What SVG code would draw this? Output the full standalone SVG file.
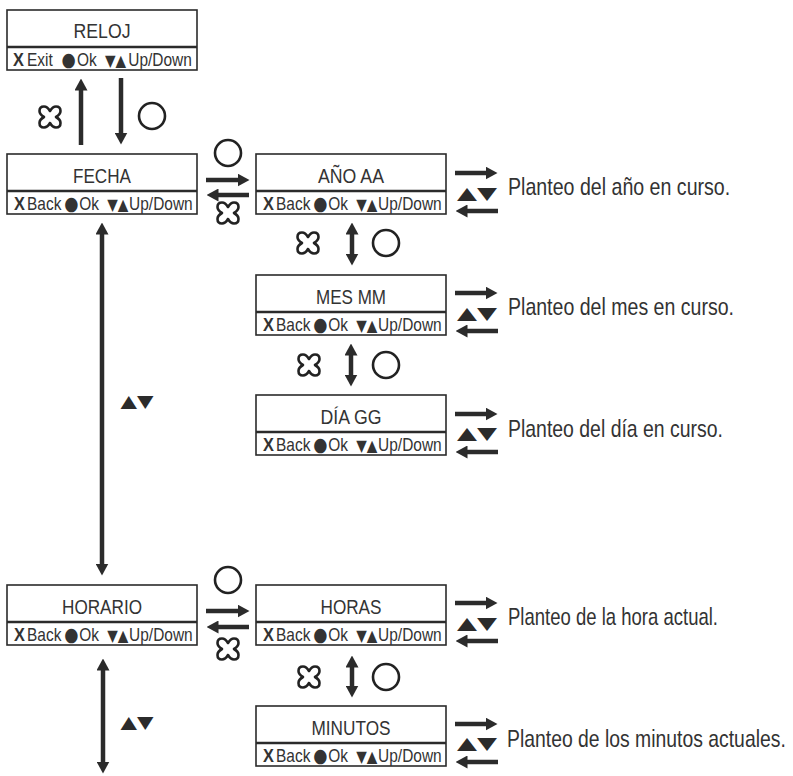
<svg xmlns="http://www.w3.org/2000/svg" xmlns:xlink="http://www.w3.org/1999/xlink" width="793" height="776" viewBox="0 0 793 776">
<style>
  .box { fill: #ffffff; stroke: #2b2b2b; stroke-width: 1.6; }
  .sep { stroke: #2b2b2b; stroke-width: 2.4; }
  .t { font-family: "Liberation Sans", Arial, sans-serif; font-size: 21px; fill: #333333; text-anchor: middle; }
  .k { font-family: "Liberation Sans", Arial, sans-serif; font-size: 18px; fill: #333333; }
  .k .x { font-weight: bold; font-size: 19px; }
  .k .dot { font-family: "DejaVu Sans", sans-serif; font-size: 19px; }
  .k .tr { font-family: "DejaVu Sans", sans-serif; font-size: 16px; }
  .d { font-family: "Liberation Sans", Arial, sans-serif; font-size: 24px; fill: #333333; }
  .tri { font-family: "DejaVu Sans", sans-serif; font-size: 17px; fill: #2b2b2b; text-anchor: middle; }
  .ar { fill: none; stroke: #2b2b2b; stroke-width: 4.5; marker-end: url(#head); }
  .dar { fill: none; stroke: #2b2b2b; stroke-width: 4.5; marker-start: url(#head); marker-end: url(#head); }
  .ok { fill: #ffffff; stroke: #222222; stroke-width: 2.6; }
  .bk { fill: #ffffff; stroke: #222222; stroke-width: 2.6; stroke-linejoin: round; }
</style>
<defs>
  <marker id="head" viewBox="0 0 12 13" refX="0.5" refY="6.5" markerWidth="12" markerHeight="13" markerUnits="userSpaceOnUse" orient="auto-start-reverse">
    <path d="M0,0 L12,6.5 L0,13 z" fill="#2b2b2b"/>
  </marker>
  <path id="back" class="bk" d="M0,-6 C2,-9.5 4,-10.5 6,-10.5 C8.8,-10.5 10.5,-8.8 10.5,-6 C10.5,-4 9.5,-2 6,0 C9.5,2 10.5,4 10.5,6 C10.5,8.8 8.8,10.5 6,10.5 C4,10.5 2,9.5 0,6 C-2,9.5 -4,10.5 -6,10.5 C-8.8,10.5 -10.5,8.8 -10.5,6 C-10.5,4 -9.5,2 -6,0 C-9.5,-2 -10.5,-4 -10.5,-6 C-10.5,-8.8 -8.8,-10.5 -6,-10.5 C-4,-10.5 -2,-9.5 0,-6 Z"/>
</defs>
<rect width="793" height="776" fill="#ffffff"/>

<g id="reloj">
  <rect class="box" x="7" y="10" width="190" height="60"/>
  <line class="sep" x1="7" y1="47" x2="197" y2="47"/>
  <text class="t" x="102" y="38" textLength="57" lengthAdjust="spacingAndGlyphs">RELOJ</text>
  <text class="k" transform="translate(7,66) scale(0.86,1)"><tspan class="x" x="7">X</tspan> <tspan x="23.3">Exit</tspan> <tspan class="dot" x="63.5">●</tspan><tspan x="81.5">Ok</tspan> <tspan class="tr" x="114">▼▲</tspan> <tspan x="141">Up/Down</tspan></text>
</g>

<g id="fecha">
  <rect class="box" x="7" y="154" width="190" height="60"/>
  <line class="sep" x1="7" y1="191" x2="197" y2="191"/>
  <text class="t" x="102" y="183" textLength="58" lengthAdjust="spacingAndGlyphs">FECHA</text>
  <text class="k" transform="translate(7,210) scale(0.86,1)"><tspan class="x" x="8.1">X</tspan><tspan x="23.3">Back</tspan> <tspan class="dot" x="66.5">●</tspan><tspan x="84">Ok</tspan> <tspan class="tr" x="116.5">▼▲</tspan><tspan x="142">Up/Down</tspan></text>
</g>

<g id="ano">
  <rect class="box" x="256" y="154" width="190" height="60"/>
  <line class="sep" x1="256" y1="191" x2="446" y2="191"/>
  <text class="t" x="351" y="183" textLength="66" lengthAdjust="spacingAndGlyphs">AÑO AA</text>
  <text class="k" transform="translate(256,210) scale(0.86,1)"><tspan class="x" x="8.1">X</tspan><tspan x="23.3">Back</tspan> <tspan class="dot" x="66.5">●</tspan><tspan x="84">Ok</tspan> <tspan class="tr" x="116.5">▼▲</tspan><tspan x="142">Up/Down</tspan></text>
</g>

<g id="mes">
  <rect class="box" x="256" y="275" width="190" height="60"/>
  <line class="sep" x1="256" y1="312" x2="446" y2="312"/>
  <text class="t" x="351" y="304" textLength="70" lengthAdjust="spacingAndGlyphs">MES MM</text>
  <text class="k" transform="translate(256,331) scale(0.86,1)"><tspan class="x" x="8.1">X</tspan><tspan x="23.3">Back</tspan> <tspan class="dot" x="66.5">●</tspan><tspan x="84">Ok</tspan> <tspan class="tr" x="116.5">▼▲</tspan><tspan x="142">Up/Down</tspan></text>
</g>

<g id="dia">
  <rect class="box" x="256" y="395" width="190" height="60"/>
  <line class="sep" x1="256" y1="432" x2="446" y2="432"/>
  <text class="t" x="351" y="424" textLength="61" lengthAdjust="spacingAndGlyphs">DÍA GG</text>
  <text class="k" transform="translate(256,451) scale(0.86,1)"><tspan class="x" x="8.1">X</tspan><tspan x="23.3">Back</tspan> <tspan class="dot" x="66.5">●</tspan><tspan x="84">Ok</tspan> <tspan class="tr" x="116.5">▼▲</tspan><tspan x="142">Up/Down</tspan></text>
</g>

<g id="horario">
  <rect class="box" x="7" y="585" width="190" height="60"/>
  <line class="sep" x1="7" y1="622" x2="197" y2="622"/>
  <text class="t" x="102" y="614" textLength="80" lengthAdjust="spacingAndGlyphs">HORARIO</text>
  <text class="k" transform="translate(7,641) scale(0.86,1)"><tspan class="x" x="8.1">X</tspan><tspan x="23.3">Back</tspan> <tspan class="dot" x="66.5">●</tspan><tspan x="84">Ok</tspan> <tspan class="tr" x="116.5">▼▲</tspan><tspan x="142">Up/Down</tspan></text>
</g>

<g id="horas">
  <rect class="box" x="256" y="585" width="190" height="60"/>
  <line class="sep" x1="256" y1="622" x2="446" y2="622"/>
  <text class="t" x="351" y="614" textLength="61" lengthAdjust="spacingAndGlyphs">HORAS</text>
  <text class="k" transform="translate(256,641) scale(0.86,1)"><tspan class="x" x="8.1">X</tspan><tspan x="23.3">Back</tspan> <tspan class="dot" x="66.5">●</tspan><tspan x="84">Ok</tspan> <tspan class="tr" x="116.5">▼▲</tspan><tspan x="142">Up/Down</tspan></text>
</g>

<g id="minutos">
  <rect class="box" x="256" y="706" width="190" height="60"/>
  <line class="sep" x1="256" y1="743" x2="446" y2="743"/>
  <text class="t" x="351" y="735" textLength="79" lengthAdjust="spacingAndGlyphs">MINUTOS</text>
  <text class="k" transform="translate(256,762) scale(0.86,1)"><tspan class="x" x="8.1">X</tspan><tspan x="23.3">Back</tspan> <tspan class="dot" x="66.5">●</tspan><tspan x="84">Ok</tspan> <tspan class="tr" x="116.5">▼▲</tspan><tspan x="142">Up/Down</tspan></text>
</g>

<g id="connectors">
  <!-- RELOJ <-> FECHA -->
  <path class="ar" d="M81,145 L81,90"/>
  <path class="ar" d="M121,78 L121,133"/>
  <use xlink:href="#back" href="#back" x="50" y="117"/>
  <circle class="ok" cx="152" cy="116" r="13"/>
  <!-- FECHA <-> AÑO -->
  <path class="ar" d="M206,180 L238,180"/>
  <path class="ar" d="M249,195 L218,195"/>
  <circle class="ok" cx="228" cy="153" r="13"/>
  <use xlink:href="#back" href="#back" x="228" y="213"/>
  <!-- FECHA <-> HORARIO -->
  <path class="dar" d="M102,234 L102,564"/>
  <text class="tri" x="137" y="407" textLength="33" lengthAdjust="spacingAndGlyphs">▲▼</text>
  <!-- AÑO <-> MES -->
  <path class="dar" d="M352,234 L352,254"/>
  <use xlink:href="#back" href="#back" x="308" y="243"/>
  <circle class="ok" cx="386" cy="243" r="13"/>
  <!-- MES <-> DÍA -->
  <path class="dar" d="M351,355 L351,375"/>
  <use xlink:href="#back" href="#back" x="309" y="365"/>
  <circle class="ok" cx="386" cy="365" r="13"/>
  <!-- HORARIO <-> HORAS -->
  <path class="ar" d="M206,611 L238,611"/>
  <path class="ar" d="M249,627 L218,627"/>
  <circle class="ok" cx="228" cy="580" r="13"/>
  <use xlink:href="#back" href="#back" x="228" y="649"/>
  <!-- HORARIO down -->
  <path class="dar" d="M103,670 L103,762"/>
  <text class="tri" x="137" y="728" textLength="33" lengthAdjust="spacingAndGlyphs">▲▼</text>
  <!-- HORAS <-> MINUTOS -->
  <path class="dar" d="M352,667 L352,686"/>
  <use xlink:href="#back" href="#back" x="309" y="677"/>
  <circle class="ok" cx="386" cy="677" r="13"/>

  <!-- side edit loops -->
  <path class="ar" d="M455,173 L486,173"/>
  <path class="ar" d="M498,211 L467,211"/>
  <text class="tri" x="477" y="199" textLength="40" lengthAdjust="spacingAndGlyphs">▲▼</text>

  <path class="ar" d="M455,293 L486,293"/>
  <path class="ar" d="M498,331 L467,331"/>
  <text class="tri" x="477" y="319" textLength="40" lengthAdjust="spacingAndGlyphs">▲▼</text>

  <path class="ar" d="M455,414 L486,414"/>
  <path class="ar" d="M498,452 L467,452"/>
  <text class="tri" x="477" y="439" textLength="40" lengthAdjust="spacingAndGlyphs">▲▼</text>

  <path class="ar" d="M455,603 L486,603"/>
  <path class="ar" d="M498,641 L467,641"/>
  <text class="tri" x="477" y="629" textLength="40" lengthAdjust="spacingAndGlyphs">▲▼</text>

  <path class="ar" d="M455,724 L486,724"/>
  <path class="ar" d="M498,762 L467,762"/>
  <text class="tri" x="477" y="749" textLength="40" lengthAdjust="spacingAndGlyphs">▲▼</text>
</g>

<g id="descriptions">
  <text class="d" transform="translate(508,195) scale(0.82,1)" textLength="271" lengthAdjust="spacingAndGlyphs">Planteo del año en curso.</text>
  <text class="d" transform="translate(508,315) scale(0.82,1)" textLength="275.6" lengthAdjust="spacingAndGlyphs">Planteo del mes en curso.</text>
  <text class="d" transform="translate(508,437) scale(0.82,1)" textLength="262.2" lengthAdjust="spacingAndGlyphs">Planteo del día en curso.</text>
  <text class="d" transform="translate(508,625) scale(0.82,1)" textLength="256.1" lengthAdjust="spacingAndGlyphs">Planteo de la hora actual.</text>
  <text class="d" transform="translate(507,747) scale(0.82,1)" textLength="340" lengthAdjust="spacingAndGlyphs">Planteo de los minutos actuales.</text>
</g>
</svg>
